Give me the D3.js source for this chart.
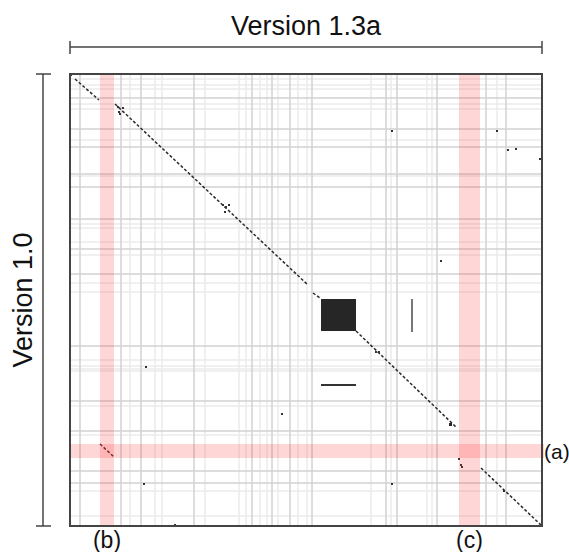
<!DOCTYPE html>
<html>
<head>
<meta charset="utf-8">
<script src="https://cdn.jsdelivr.net/npm/d3@7"></script>
<style>
  body { margin: 0; background: #fff; }
  text { font-family: "Liberation Sans", Arial, sans-serif; fill: #111; }
</style>
</head>
<body>
<div id="chart"></div>
<script>
// positions along each version (arbitrary units)
var lenNew = 472;   // version 1.3a, x
var lenOld = 452;   // version 1.0, y

// file boundaries
var colMajor = [10, 51, 71, 124, 182, 202, 220, 242, 316, 327, 367, 416, 436];
var colMinor = [60, 85, 92, 135, 169, 176, 190, 197, 208, 228, 237, 301, 321, 357, 362, 427];
var rowMajor = [24, 55, 73, 100, 113, 145, 175, 200, 272, 327, 357, 397, 409];
var rowMinor = [5, 11, 15, 30, 35, 66, 102, 150, 154, 168, 181, 209, 218, 286, 292, 295, 297, 332, 361, 417, 442];

// highlighted regions
var colBands = [{ label: '(b)', from: 30, to: 44 }, { label: '(c)', from: 389, to: 410 }];
var rowBands = [{ label: '(a)', from: 370, to: 384 }];

// matching runs [x1, y1, x2, y2]
var runs = [
	[5, 5, 29, 26],
	[30, 370, 44, 383],
	[45, 30, 238, 211],
	[243, 219, 250, 224],
	[286, 257, 387, 354],
	[411, 394, 472, 452]
];
// repeated block [x1, y1, x2, y2]
var blocks = [[251, 225, 286, 257], [379, 349, 382, 352], [433, 416, 435, 418]];
var hRuns = [[251, 311, 286]];
var vRuns = [[342, 225, 258]];
// single matches [x, y]
var dots = [
	[1, 1], [48, 33], [53, 34], [49, 38], [50, 40],
	[153, 131], [156, 133], [159, 131], [155, 138],
	[322, 57], [427, 57], [438, 76], [446, 75], [470, 85],
	[371, 187], [76, 293], [212, 340], [74, 410], [322, 410], [105, 451],
	[306, 278], [309, 278], [389, 385], [391, 391], [392, 393]
];

var svgWidth = 569;
var svgHeight = 552;
var margins = { top: 74, right: 27, left: 70, bottom: 26 };
var width = svgWidth - margins.left - margins.right;
var height = svgHeight - margins.top - margins.bottom;

var svg = d3.select('#chart').append('svg').attr('width', svgWidth).attr('height', svgHeight);
var chart = svg.append('g').attr('transform', `translate(${margins.left}, ${margins.top})`);

var x = d3.scaleLinear().domain([0, lenNew]).range([0, width]);
var y = d3.scaleLinear().domain([0, lenOld]).range([0, height]);

// grid
function vlines(vals, color) {
	chart.append('g').selectAll('line').data(vals).enter().append('line')
		.attr('x1', d => x(d)).attr('x2', d => x(d))
		.attr('y1', 0).attr('y2', height)
		.attr('stroke', color).attr('stroke-width', 1.5);
}
function hlines(vals, color) {
	chart.append('g').selectAll('line').data(vals).enter().append('line')
		.attr('y1', d => y(d)).attr('y2', d => y(d))
		.attr('x1', 0).attr('x2', width)
		.attr('stroke', color).attr('stroke-width', 1.5);
}
vlines(colMinor, '#ebebeb');
hlines(rowMinor, '#ebebeb');
vlines(colMajor, '#d2d2d2');
hlines(rowMajor, '#d2d2d2');

// matches
chart.append('g').selectAll('line').data(runs).enter().append('line')
	.attr('x1', d => x(d[0])).attr('y1', d => y(d[1]))
	.attr('x2', d => x(d[2])).attr('y2', d => y(d[3]))
	.attr('stroke', '#2a2a2a').attr('stroke-width', 1.5)
	.attr('stroke-dasharray', '3,2');

chart.append('g').selectAll('rect').data(blocks).enter().append('rect')
	.attr('x', d => x(d[0])).attr('y', d => y(d[1]))
	.attr('width', d => x(d[2]) - x(d[0])).attr('height', d => y(d[3]) - y(d[1]))
	.attr('fill', '#262626');

chart.append('g').selectAll('line').data(hRuns).enter().append('line')
	.attr('x1', d => x(d[0])).attr('x2', d => x(d[2]))
	.attr('y1', d => y(d[1])).attr('y2', d => y(d[1]))
	.attr('stroke', '#333').attr('stroke-width', 1.8);

chart.append('g').selectAll('line').data(vRuns).enter().append('line')
	.attr('x1', d => x(d[0])).attr('x2', d => x(d[0]))
	.attr('y1', d => y(d[1])).attr('y2', d => y(d[2]))
	.attr('stroke', '#777').attr('stroke-width', 2);

chart.append('g').selectAll('rect').data(dots).enter().append('rect')
	.attr('x', d => x(d[0]) - 1).attr('y', d => y(d[1]) - 1)
	.attr('width', 2).attr('height', 2)
	.attr('fill', '#333');

// highlight bands
chart.append('g').selectAll('rect').data(colBands).enter().append('rect')
	.attr('x', d => x(d.from)).attr('width', d => x(d.to) - x(d.from))
	.attr('y', 0).attr('height', height)
	.attr('fill', '#ff3030').attr('opacity', 0.2);
chart.append('g').selectAll('rect').data(rowBands).enter().append('rect')
	.attr('y', d => y(d.from)).attr('height', d => y(d.to) - y(d.from))
	.attr('x', 0).attr('width', width + 2)
	.attr('fill', '#ff3030').attr('opacity', 0.2);

// frame
chart.append('rect')
	.attr('width', width).attr('height', height)
	.attr('fill', 'none').attr('stroke', '#444').attr('stroke-width', 2);

// band labels
chart.selectAll('.collabel').data(colBands).enter().append('text')
	.attr('x', d => (x(d.from) + x(d.to)) / 2)
	.attr('y', height + 22)
	.attr('text-anchor', 'middle')
	.attr('font-size', '23px')
	.text(d => d.label);
chart.selectAll('.rowlabel').data(rowBands).enter().append('text')
	.attr('x', width + 2)
	.attr('y', d => (y(d.from) + y(d.to)) / 2 + 8)
	.attr('font-size', '21px')
	.text(d => d.label);

// brackets
var topBracket = svg.append('g').attr('stroke', '#444').attr('stroke-width', 1.5);
topBracket.append('line').attr('x1', margins.left).attr('x2', margins.left + width).attr('y1', 47).attr('y2', 47);
topBracket.append('line').attr('x1', margins.left).attr('x2', margins.left).attr('y1', 41).attr('y2', 54);
topBracket.append('line').attr('x1', margins.left + width).attr('x2', margins.left + width).attr('y1', 41).attr('y2', 54);

var leftBracket = svg.append('g').attr('stroke', '#444').attr('stroke-width', 1.5);
leftBracket.append('line').attr('x1', 43).attr('x2', 43).attr('y1', margins.top).attr('y2', margins.top + height);
leftBracket.append('line').attr('x1', 36).attr('x2', 51).attr('y1', margins.top).attr('y2', margins.top);
leftBracket.append('line').attr('x1', 36).attr('x2', 51).attr('y1', margins.top + height).attr('y2', margins.top + height);

// titles
svg.append('text')
	.attr('x', margins.left + width / 2).attr('y', 35)
	.attr('text-anchor', 'middle')
	.attr('font-size', '27px')
	.text('Version 1.3a');
svg.append('text')
	.attr('transform', `translate(32, ${margins.top + height / 2}) rotate(-90)`)
	.attr('text-anchor', 'middle')
	.attr('font-size', '27px')
	.text('Version 1.0');
</script>
</body>
</html>
